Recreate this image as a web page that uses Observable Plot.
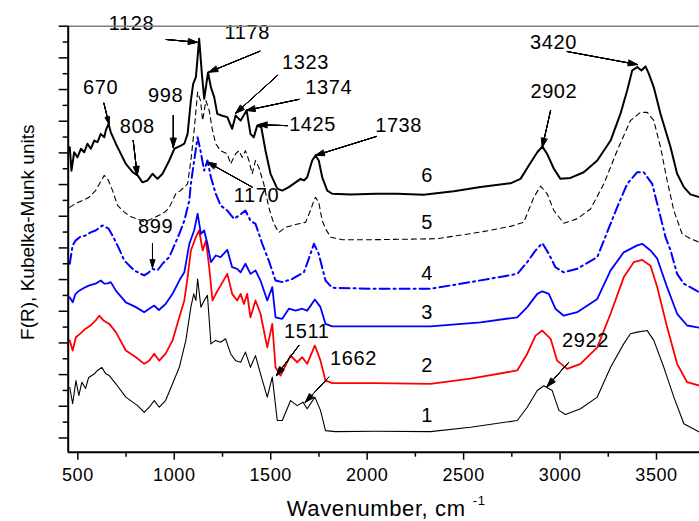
<!DOCTYPE html>
<html>
<head>
<meta charset="utf-8">
<script src="https://cdn.jsdelivr.net/npm/d3@7"></script>
<script src="https://cdn.jsdelivr.net/npm/@observablehq/plot@0.6"></script>
<style>
  html, body { margin: 0; padding: 0; background: #fff; }
  #chart svg text { letter-spacing: 0.6px; }
</style>
</head>
<body>
<div id="chart"></div>
<script>
// Spectra: [wavenumber (cm-1), F(R) offset units]
const curve1 = [[458,1.60],[473,1.08],[490,1.81],[505,1.34],[521,1.76],[540,1.56],[556,1.91],[585,2.02],[602,2.13],[624,2.23],[644,2.03],[663,1.97],[697,1.71],[749,1.29],[784,1.13],[810,1.02],[844,0.81],[870,0.97],[896,1.18],[922,0.97],[955,1.18],[991,1.71],[1026,2.23],[1060,3.08],[1086,4.13],[1101,4.55],[1112,4.34],[1121,5.02],[1138,4.13],[1155,4.34],[1172,4.50],[1190,2.97],[1214,3.08],[1240,3.02],[1266,3.13],[1292,2.66],[1318,2.44],[1344,2.39],[1369,2.71],[1395,2.23],[1421,2.60],[1447,2.02],[1482,1.29],[1508,1.92],[1534,0.55],[1560,0.55],[1603,1.18],[1637,1.02],[1667,1.13],[1689,0.92],[1729,1.29],[1758,0.87],[1784,0.23],[1836,0.20],[2043,0.21],[2328,0.20],[2536,0.34],[2778,0.55],[2830,0.97],[2882,1.50],[2916,1.65],[2959,1.50],[2994,0.87],[3028,0.74],[3106,0.92],[3193,1.29],[3262,2.23],[3330,2.97],[3365,3.29],[3400,3.34],[3452,3.39],[3486,3.08],[3538,2.23],[3590,1.29],[3642,0.45],[3723,0.18]];
const curve2 = [[458,3.08],[473,2.76],[490,3.18],[514,3.30],[540,3.45],[566,3.55],[592,3.71],[611,3.86],[633,3.71],[663,3.60],[697,3.34],[749,2.76],[801,2.55],[844,2.34],[870,2.44],[896,2.66],[922,2.44],[955,2.66],[991,3.08],[1026,3.81],[1052,4.34],[1069,5.07],[1086,5.92],[1112,6.34],[1129,6.55],[1147,5.92],[1164,6.23],[1181,5.39],[1198,4.34],[1224,4.65],[1240,4.81],[1275,5.18],[1300,4.55],[1326,4.34],[1344,4.55],[1361,4.23],[1378,4.55],[1395,3.81],[1421,4.34],[1447,3.92],[1482,2.86],[1508,3.60],[1525,2.23],[1551,1.97],[1577,2.29],[1603,2.60],[1637,2.39],[1663,2.55],[1689,2.34],[1729,2.92],[1758,2.44],[1784,1.81],[1819,1.73],[2043,1.73],[2328,1.71],[2536,1.87],[2778,2.13],[2830,2.66],[2873,3.23],[2908,3.39],[2951,3.13],[2985,2.44],[3037,2.18],[3106,2.34],[3193,2.86],[3262,3.92],[3330,5.07],[3382,5.55],[3426,5.62],[3469,5.44],[3504,4.76],[3555,3.50],[3607,2.34],[3659,1.76],[3723,1.65]];
const curve3 = [[458,4.44],[473,4.28],[488,4.55],[507,4.65],[524,4.71],[556,4.81],[592,4.87],[619,4.97],[637,4.87],[654,4.88],[671,4.92],[697,4.65],[749,4.28],[801,4.13],[844,3.97],[870,4.08],[896,4.18],[920,4.04],[955,4.23],[991,4.55],[1026,4.97],[1052,5.23],[1078,6.13],[1103,6.55],[1121,7.08],[1138,6.44],[1155,6.55],[1172,6.13],[1190,5.55],[1215,5.76],[1240,5.71],[1275,5.94],[1300,5.39],[1326,5.34],[1344,5.23],[1369,5.50],[1395,5.18],[1421,5.29],[1447,4.97],[1482,4.34],[1508,4.76],[1525,3.81],[1560,3.76],[1594,4.08],[1629,4.02],[1663,4.08],[1689,4.02],[1729,4.37],[1758,4.13],[1784,3.60],[1819,3.52],[2043,3.52],[2328,3.52],[2588,3.65],[2778,3.81],[2830,4.13],[2882,4.55],[2908,4.63],[2942,4.55],[2976,4.08],[3019,3.86],[3089,3.97],[3193,4.39],[3262,5.29],[3330,5.86],[3400,6.08],[3426,6.13],[3469,5.92],[3504,5.66],[3555,4.76],[3607,3.92],[3659,3.55],[3723,3.48]];
const curve4 = [[458,5.50],[473,6.08],[488,6.23],[514,6.36],[540,6.39],[566,6.49],[592,6.55],[628,6.71],[659,6.61],[680,6.39],[711,6.01],[741,5.60],[792,5.29],[844,5.13],[867,5.22],[887,5.34],[913,5.29],[939,5.50],[974,5.71],[1026,6.44],[1052,6.86],[1078,7.50],[1086,8.02],[1103,8.76],[1121,9.49],[1136,9.07],[1155,8.44],[1172,8.76],[1190,8.23],[1215,7.71],[1240,7.34],[1275,7.18],[1309,6.92],[1335,7.02],[1369,7.18],[1395,6.86],[1421,6.76],[1456,6.13],[1490,5.60],[1525,4.97],[1560,4.92],[1612,5.02],[1672,5.23],[1706,5.81],[1724,6.13],[1749,5.81],[1784,4.97],[1819,4.74],[2043,4.71],[2328,4.71],[2536,4.92],[2778,5.18],[2830,5.55],[2873,5.92],[2908,6.15],[2942,5.81],[2976,5.39],[3019,5.23],[3089,5.34],[3193,5.71],[3227,6.23],[3296,7.28],[3348,8.02],[3400,8.39],[3434,8.39],[3478,8.02],[3504,7.39],[3547,6.34],[3573,5.92],[3607,5.18],[3642,4.87],[3723,4.60]];
const curve5 = [[458,7.28],[488,7.40],[524,7.50],[556,7.59],[592,7.81],[637,8.29],[659,8.13],[680,7.81],[706,7.34],[741,7.13],[773,6.99],[815,6.90],[841,6.83],[877,6.90],[918,7.02],[955,7.15],[974,7.28],[1008,7.71],[1032,7.81],[1069,8.02],[1086,8.76],[1103,9.71],[1121,10.92],[1136,10.65],[1147,10.02],[1164,10.65],[1181,10.34],[1198,9.71],[1215,9.29],[1240,9.07],[1275,8.97],[1292,8.65],[1318,8.97],[1335,9.07],[1352,8.86],[1369,9.07],[1387,8.76],[1404,8.34],[1421,8.76],[1438,8.55],[1464,8.02],[1490,7.28],[1516,6.76],[1542,6.49],[1577,6.65],[1629,6.74],[1681,6.81],[1706,7.18],[1724,7.50],[1732,7.60],[1749,7.44],[1767,6.86],[1784,6.61],[1810,6.34],[1871,6.26],[2043,6.26],[2363,6.29],[2588,6.50],[2743,6.68],[2812,6.81],[2864,7.60],[2899,7.95],[2933,7.71],[2968,7.18],[3019,6.78],[3089,6.92],[3158,7.23],[3227,8.02],[3296,9.07],[3365,10.02],[3417,10.28],[3452,10.28],[3486,10.02],[3521,9.18],[3555,8.13],[3590,7.18],[3633,6.44],[3676,6.29],[3723,6.18]];
const curve6 = [[458,9.18],[467,8.44],[481,9.02],[498,8.86],[516,9.13],[533,9.02],[550,9.29],[567,9.13],[585,9.39],[602,9.34],[619,9.60],[637,9.49],[645,9.71],[659,9.92],[671,9.65],[697,9.29],[723,8.97],[749,8.65],[784,8.39],[810,8.29],[835,8.07],[861,8.13],[887,8.34],[913,8.18],[939,8.34],[974,8.76],[1000,9.13],[1034,9.23],[1052,9.29],[1069,9.60],[1086,10.65],[1098,11.18],[1112,11.39],[1129,12.60],[1143,11.50],[1155,10.71],[1175,11.54],[1190,11.07],[1207,10.76],[1223,10.23],[1245,10.18],[1275,10.13],[1300,9.76],[1318,10.18],[1344,10.02],[1375,10.34],[1395,9.60],[1412,9.49],[1430,9.86],[1451,9.81],[1473,9.07],[1499,8.34],[1534,7.87],[1560,7.81],[1594,7.92],[1629,8.07],[1655,8.18],[1672,8.13],[1689,8.23],[1715,8.76],[1732,8.92],[1749,8.76],[1767,8.23],[1793,7.81],[1819,7.71],[1914,7.69],[2043,7.71],[2156,7.71],[2292,7.68],[2449,7.79],[2588,7.92],[2743,8.04],[2795,8.18],[2838,8.60],[2882,9.02],[2908,9.20],[2933,8.97],[2968,8.50],[3002,8.18],[3054,8.21],[3123,8.39],[3193,8.76],[3262,9.39],[3313,10.23],[3348,10.97],[3374,11.60],[3400,11.71],[3422,11.60],[3443,11.73],[3460,11.50],[3486,11.07],[3521,10.23],[3573,9.18],[3607,8.34],[3642,7.92],[3676,7.69],[3723,7.60]];

// Curve number labels
const curveNames = ["1", "2", "3", "4", "5", "6"];
const curveNameX = [2311, 2311, 2311, 2311, 2311, 2311];
const curveNameY = [0.71, 2.29, 3.97, 5.18, 6.81, 8.29];

// Peak annotations: label text, label position, arrow start -> arrow tip
const peakText = ["670", "808", "998", "1128", "1178", "1323", "1374", "1425", "1738", "2902", "3420", "1170", "899", "1511", "1662", "2922"];
const peakLabelX = [618, 808, 955, 778, 1378, 1680, 1801, 1717, 2163, 2968, 2966, 1426, 903, 1687, 1929, 3132];
const peakLabelY = [11.07, 9.83, 10.81, 13.08, 12.81, 11.86, 11.05, 9.90, 9.86, 10.94, 12.49, 7.65, 6.68, 3.36, 2.52, 3.08];
const arrowX1 = [635, 787, 995, 958, 1444, 1534, 1646, 1586, 2049, 2951, 3037, 1404, 887, 1646, 1801, 3045];
const arrowY1 = [10.57, 9.39, 10.18, 12.58, 12.21, 11.44, 10.69, 9.86, 9.52, 10.34, 12.20, 7.92, 6.13, 2.92, 1.92, 2.39];
const arrowX2 = [661, 808, 995, 1119, 1179, 1318, 1373, 1435, 1732, 2908, 3400, 1171, 887, 1530, 1680, 2933];
const arrowY2 = [9.92, 8.29, 9.18, 12.49, 11.55, 10.25, 10.34, 9.89, 8.92, 9.18, 11.79, 8.71, 5.39, 1.97, 1.13, 1.62];

// Axis ticks
const xMajorTicks = [500, 1000, 1500, 2000, 2500, 3000, 3500];
const xMinorTicks = [750, 1250, 1750, 2250, 2750, 3250];
const yMajorTicks = [0, 1, 2, 3, 4, 5, 6, 7, 8, 9, 10, 11, 12, 13];
const yMinorTicks = [0.5, 1.5, 2.5, 3.5, 4.5, 5.5, 6.5, 7.5, 8.5, 9.5, 10.5, 11.5, 12.5];

const xTitle = "Wavenumber, cm";
const xTitleSup = "-1";
const yTitle = "F(R), Kubelka-Munk units";

const rows = (pairs) => pairs.map(([x, y]) => ({x, y}));
const curveStyles = [
  {data: curve1, stroke: "#000000", strokeWidth: 1.1},
  {data: curve2, stroke: "#ff0000", strokeWidth: 1.8},
  {data: curve3, stroke: "#0000ff", strokeWidth: 1.8},
  {data: curve4, stroke: "#0000ff", strokeWidth: 2, strokeDasharray: "10,4,2,4"},
  {data: curve5, stroke: "#000000", strokeWidth: 1.1, strokeDasharray: "5,4"},
  {data: curve6, stroke: "#000000", strokeWidth: 2}
];

const labels = peakText.map((t, i) => ({t, x: peakLabelX[i], y: peakLabelY[i]}));
const arrows = peakText.map((t, i) => ({x1: arrowX1[i], y1: arrowY1[i], x2: arrowX2[i], y2: arrowY2[i]}));
const names = curveNames.map((t, i) => ({t, x: curveNameX[i], y: curveNameY[i]}));

const marks = [];
for (const c of curveStyles) {
  marks.push(Plot.line(rows(c.data), {
    x: "x", y: "y", stroke: c.stroke, strokeWidth: c.strokeWidth,
    strokeDasharray: c.strokeDasharray, strokeLinejoin: "round", clip: true
  }));
}
for (const a of [6, 14, 22, 30, 38]) {
  marks.push(Plot.arrow(arrows, {
    x1: "x1", y1: "y1", x2: "x2", y2: "y2",
    stroke: "#000", strokeWidth: 1, headLength: 14, headAngle: a
  }));
}
marks.push(
  Plot.text(labels, {x: "x", y: "y", text: "t", fontSize: 20, fill: "#000"}),
  Plot.text(names, {x: "x", y: "y", text: "t", fontSize: 20, fill: "#000"}),
  Plot.ruleY([13], {stroke: "#808080", strokeWidth: 1.5}),
  Plot.ruleX([450], {stroke: "#000", strokeWidth: 2}),
  Plot.ruleY([-0.45], {stroke: "#000", strokeWidth: 2}),
  Plot.axisX(xMajorTicks, {tickSize: 8, tickPadding: 8, fontSize: 18, strokeWidth: 1.5, tickFormat: d => String(d), label: null}),
  Plot.axisX(xMinorTicks, {tickSize: 5, strokeWidth: 1.5, tickFormat: () => "", label: null}),
  Plot.axisY(yMajorTicks, {tickSize: 9, strokeWidth: 1.5, tickFormat: () => "", label: null}),
  Plot.axisY(yMinorTicks, {tickSize: 5, strokeWidth: 1.5, tickFormat: () => "", label: null}),
  Plot.text([xTitle], {frameAnchor: "bottom-left", textAnchor: "middle", lineAnchor: "middle", dx: 308, dy: 56.5, fontSize: 22, fill: "#000"}),
  Plot.text([xTitleSup], {frameAnchor: "bottom-left", textAnchor: "middle", lineAnchor: "middle", dx: 411, dy: 49, fontSize: 13, fill: "#000"}),
  Plot.text([yTitle], {frameAnchor: "left", textAnchor: "middle", lineAnchor: "middle", rotate: -90, dx: -40.5, dy: -7, fontSize: 19, fill: "#000"})
);

const chart = Plot.plot({
  width: 699,
  height: 521,
  marginLeft: 67.7,
  marginRight: 0,
  marginTop: 25.7,
  marginBottom: 69.3,
  x: {domain: [450, 3723]},
  y: {domain: [-0.45, 13]},
  style: {fontFamily: "'Liberation Sans', Arial, sans-serif", background: "#fff", color: "#000", overflow: "visible"},
  marks
});
// the rotated y title is not horizontally stretched in the reference
const textGroups = d3.select(chart).selectAll('g[aria-label="text"]').nodes();
if (textGroups.length) d3.select(textGroups[textGroups.length - 1]).selectAll("text").style("letter-spacing", "0px");
document.getElementById("chart").appendChild(chart);
</script>
</body>
</html>
